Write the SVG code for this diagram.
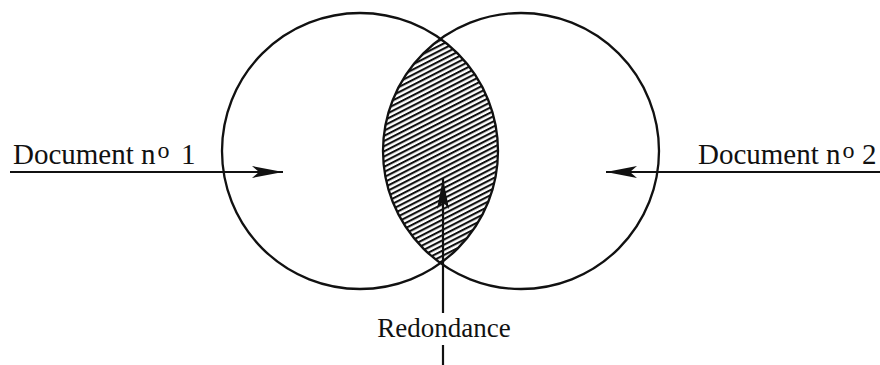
<svg xmlns="http://www.w3.org/2000/svg" width="880" height="365" viewBox="0 0 880 365">
<style>
.c{fill:none;stroke:#111;stroke-width:2.3}
.l{fill:none;stroke:#111;stroke-width:2.2}
.t{font-family:"Liberation Serif","Times New Roman",serif;font-size:29px;fill:#111}
.r{font-size:27px}
.s{font-size:24px}
</style>
<defs>
<pattern id="hatch" patternUnits="userSpaceOnUse" width="20" height="4.6" patternTransform="rotate(-27)">
<rect width="20" height="4.6" fill="#fff"/>
<rect y="0" width="20" height="2.1" fill="#111"/>
</pattern>
<marker id="ah" markerUnits="userSpaceOnUse" markerWidth="34" markerHeight="14" viewBox="0 -7 34 14" refX="31" refY="0" orient="auto">
<path d="M0,-6 L31,0 L0,6 L7,0 Z" fill="#111"/>
</marker>
<clipPath id="lc"><circle cx="360" cy="151" r="138"/></clipPath>
</defs>
<rect width="880" height="365" fill="#fff"/>
<g id="redondance-area">
<circle cx="521" cy="151" r="138" fill="url(#hatch)" clip-path="url(#lc)"/>
</g>
<g id="document1">
<circle class="c" cx="360" cy="151" r="138"/>
</g>
<g id="document2">
<circle class="c" cx="521" cy="151" r="138"/>
</g>
<g id="connectors">
<line class="l" x1="10" y1="172" x2="283" y2="172" marker-end="url(#ah)"/>
<line class="l" x1="880" y1="172" x2="606" y2="172" marker-end="url(#ah)"/>
<line class="l" x1="443" y1="313" x2="443" y2="178" marker-end="url(#ah)"/>
<line class="l" x1="443" y1="345" x2="443" y2="365"/>
</g>
<g id="labels">
<text class="t" x="13" y="164">Document n<tspan class="s" dx="2" dy="-6">o</tspan><tspan x="181" y="164">1</tspan></text>
<text class="t" x="698" y="164">Document n<tspan class="s" dx="2" dy="-6">o</tspan><tspan x="862" y="164">2</tspan></text>
<text class="t r" x="444" y="337" text-anchor="middle">Redondance</text>
</g>
</svg>
